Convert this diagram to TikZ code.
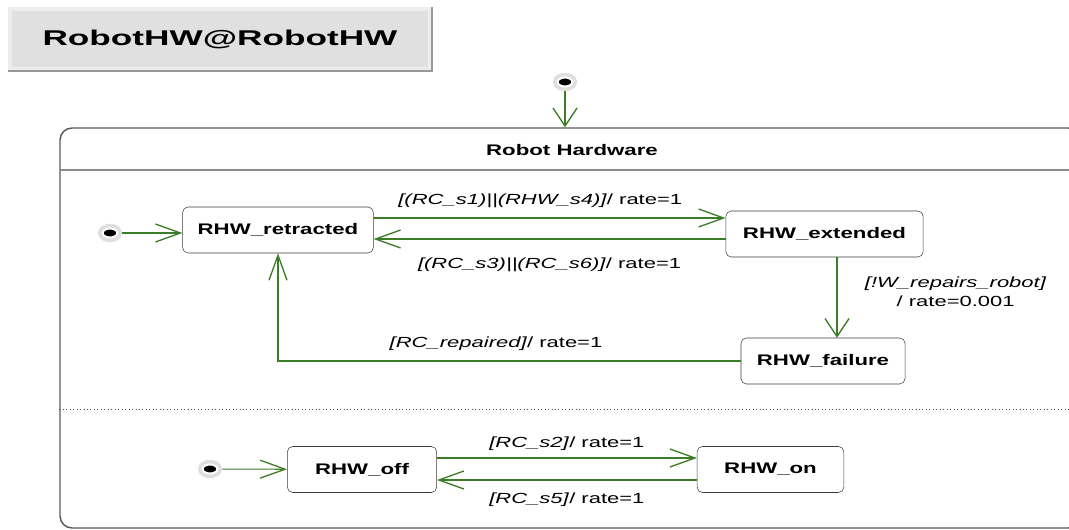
\documentclass[tikz,border=0pt]{standalone}
\usepackage{fontspec}
\setmainfont{Liberation Sans}
\newfontfamily\statefont{Liberation Sans}[FakeStretch=1.45]
\newfontfamily\labelfont{Liberation Sans}[FakeStretch=1.5]
\newfontfamily\titlefont{Liberation Sans}[FakeStretch=1.65]
\usetikzlibrary{arrows.meta,shapes.geometric,calc}

\definecolor{trgreen}{RGB}{62,125,40}
\definecolor{boxgray}{RGB}{60,60,60}

\begin{document}
\begin{tikzpicture}[x=0.75pt, y=-0.75pt,
  every node/.style={font=\labelfont\fontsize{11}{14.25}\selectfont},
  state/.style={draw=boxgray, rounded corners=4pt, fill=white, minimum height=34.5pt,
    inner sep=0pt, font=\statefont\bfseries\fontsize{11.5}{13}\selectfont},
  initdot/.style={ellipse, fill=black, draw=white, line width=1.5pt,
    preaction={draw=gray!25, line width=7pt},
    minimum width=11pt, minimum height=6.75pt, inner sep=0pt},
  titlebox/.style={fill=black!12, draw=black!7, line width=3pt, minimum width=315pt,
    minimum height=45pt, font=\titlefont\bfseries\fontsize{16}{18}\selectfont},
  trans/.style={draw=trgreen, line width=0.8pt},
  harrow/.style={trans, -{Straight Barb[length=18.75pt, width=13.5pt, line width=1pt]}},
  varrow/.style={trans, -{Straight Barb[length=13.5pt, width=18pt, line width=1pt]}},
]
  \useasboundingbox (0,0) rectangle (1069,530);
  \clip (0,0) rectangle (1069,530);

  %% Title tab
  \node[titlebox] (title) at (220,39) {RobotHW@RobotHW};
  \draw[black!40, line width=1.5pt] (title.north east) -- (title.south east) -- (title.south west);

  %% Composite state
  \node[draw=black!65, line width=1.1pt, rounded corners=9pt, minimum width=765pt,
    minimum height=300pt, inner sep=0pt] (hwbox) at (570,328) {};
  \draw[black!45, line width=1.3pt] (hwbox.west |- 0,170) -- (hwbox.east |- 0,170);
  \draw[black!70, dotted, line width=0.6pt] (hwbox.west |- 0,409) -- (hwbox.east |- 0,409);
  \node[font=\statefont\bfseries\fontsize{11.5}{13}\selectfont] (hwname) at (572,150) {Robot Hardware};

  %% States
  \node[state, minimum width=143pt] (ret) at (278,230) {RHW\_retracted};
  \node[state, minimum width=148pt] (ext) at (824.5,234) {RHW\_extended};
  \node[state, minimum width=123pt] (fail) at (823,361) {RHW\_failure};
  \node[state, minimum width=112pt] (off) at (362,469.5) {RHW\_off};
  \node[state, minimum width=110pt] (on) at (770.5,469.5) {RHW\_on};

  %% Initial pseudo states
  \node[initdot] (init0) at (565,82) {};
  \node[initdot] (init1) at (110,233) {};
  \node[initdot] (init2) at (210,469) {};

  %% Transitions
  \draw[varrow, shorten <=3pt] (init0) -- (init0 |- hwbox.north);
  \draw[harrow, shorten <=3pt] (init1) -- (init1 -| ret.west);
  \draw[harrow] (ret.east |- 0,218) -- (ext.west |- 0,218)
    node[midway, xshift=-7pt, yshift=12.75pt] {\textit{[(RC\_s1)||(RHW\_s4)]}/ rate=1};
  \draw[harrow] (ext.west |- 0,239) -- (ret.east |- 0,239)
    node[midway, yshift=-19.5pt] {\textit{[(RC\_s3)||(RC\_s6)]}/ rate=1};

  \coordinate (extdown) at ($(ext.south)+(12.5,0)$);
  \draw[varrow] (extdown) -- (extdown |- fail.north)
    node[midway, xshift=89pt, yshift=4.5pt, align=center] {\textit{[!W\_repairs\_robot]}\\/ rate=0.001};
  \draw[harrow] (fail.west) -| (ret.south)
    node[pos=0.25, xshift=-10pt, yshift=12.75pt] {\textit{[RC\_repaired]}/ rate=1};

  \draw[harrow, shorten <=3pt] (init2) -- (off);
  \draw[harrow] (off.east |- 0,458) -- (on.west |- 0,458)
    node[midway, yshift=10.5pt] {\textit{[RC\_s2]}/ rate=1};
  \draw[harrow] (on.west |- 0,480) -- (off.east |- 0,480)
    node[midway, yshift=-15pt] {\textit{[RC\_s5]}/ rate=1};

\end{tikzpicture}
\end{document}
